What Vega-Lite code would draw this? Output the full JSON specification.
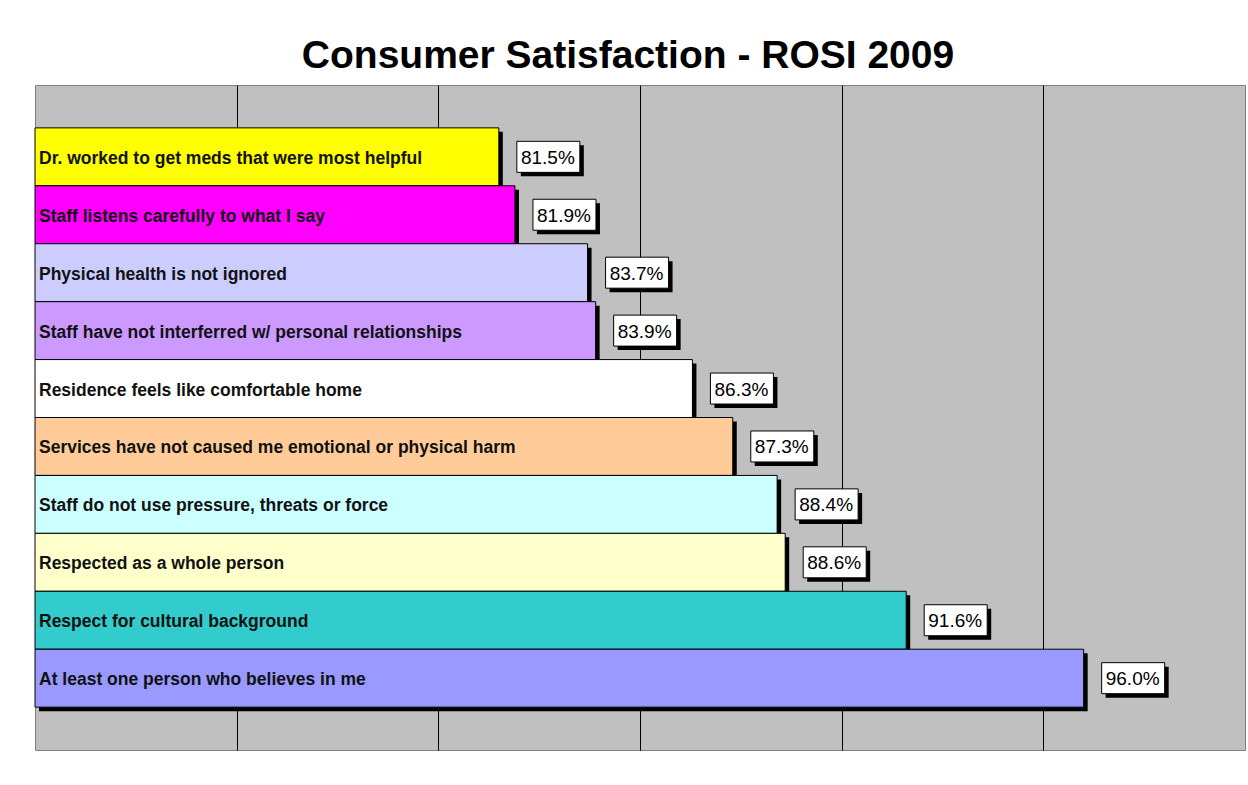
{
  "$schema": "https://vega.github.io/schema/vega-lite/v6.json",
  "width": 1210,
  "height": 665,
  "autosize": {"type": "none"},
  "padding": {"left": 35, "top": 85, "right": 3, "bottom": 35},
  "background": "#FFFFFF",
  "title": {
    "text": "Consumer Satisfaction - ROSI 2009",
    "font": "Liberation Sans",
    "fontSize": 39,
    "fontWeight": "bold",
    "color": "#000000",
    "anchor": "middle",
    "baseline": "alphabetic",
    "offset": -22,
    "dx": -12
  },
  "config": {
    "view": {"fill": "#C0C0C0", "stroke": "#808080", "strokeWidth": 1}
  },
  "data": {
    "values": [
      {"item": "Dr. worked to get meds that were most helpful", "value": 0.815, "color": "#FFFF00"},
      {"item": "Staff listens carefully to what I say", "value": 0.819, "color": "#FF00FF"},
      {"item": "Physical health is not ignored", "value": 0.837, "color": "#CCCCFF"},
      {"item": "Staff have not interferred w/ personal relationships", "value": 0.839, "color": "#CC99FF"},
      {"item": "Residence feels like comfortable home", "value": 0.863, "color": "#FFFFFF"},
      {"item": "Services have not caused me emotional or physical harm", "value": 0.873, "color": "#FFCC99"},
      {"item": "Staff do not use pressure, threats or force", "value": 0.884, "color": "#CCFFFF"},
      {"item": "Respected as a whole person", "value": 0.886, "color": "#FFFFCC"},
      {"item": "Respect for cultural background", "value": 0.916, "color": "#33CCCC"},
      {"item": "At least one person who believes in me", "value": 0.96, "color": "#9999FF"}
    ]
  },
  "encoding": {
    "y": {
      "field": "item",
      "type": "nominal",
      "sort": null,
      "scale": {"paddingInner": 0, "paddingOuter": 0.74},
      "axis": null
    }
  },
  "layer": [
    {
      "mark": {"type": "bar", "color": "#000000", "xOffset": 4, "x2Offset": 4, "yOffset": 4},
      "encoding": {
        "x": {
          "field": "value",
          "type": "quantitative",
          "scale": {"domain": [0.7, 1.0], "zero": false, "nice": false},
          "axis": {"grid": true, "gridColor": "#000000", "gridOpacity": 1, "gridWidth": 1, "labels": false, "ticks": false, "domain": false, "title": null, "values": [0.75, 0.8, 0.85, 0.9, 0.95]}
        },
        "x2": {"datum": 0.7}
      }
    },
    {
      "mark": {"type": "bar", "stroke": "#000000", "strokeWidth": 1},
      "encoding": {
        "x": {"field": "value", "type": "quantitative"},
        "x2": {"datum": 0.7},
        "fill": {"field": "color", "type": "nominal", "scale": null}
      }
    },
    {
      "mark": {"type": "text", "align": "left", "baseline": "middle", "dx": 4, "dy": 2, "font": "Liberation Sans", "fontWeight": "bold", "fontSize": 17.5, "color": "#111111"},
      "encoding": {
        "x": {"datum": 0.7},
        "text": {"field": "item"}
      }
    },
    {
      "mark": {"type": "bar", "color": "#000000", "height": 31, "xOffset": 22, "x2Offset": 85, "yOffset": 4},
      "encoding": {
        "x": {"field": "value", "type": "quantitative"},
        "x2": {"field": "value"}
      }
    },
    {
      "mark": {"type": "bar", "fill": "#FFFFFF", "stroke": "#000000", "strokeWidth": 1, "height": 31, "xOffset": 18, "x2Offset": 81},
      "encoding": {
        "x": {"field": "value", "type": "quantitative"},
        "x2": {"field": "value"}
      }
    },
    {
      "mark": {"type": "text", "align": "center", "baseline": "middle", "dx": 49, "dy": 1, "font": "Liberation Sans", "fontSize": 19, "color": "#000000"},
      "encoding": {
        "x": {"field": "value", "type": "quantitative"},
        "text": {"field": "value", "type": "quantitative", "format": ".1%"}
      }
    }
  ]
}
